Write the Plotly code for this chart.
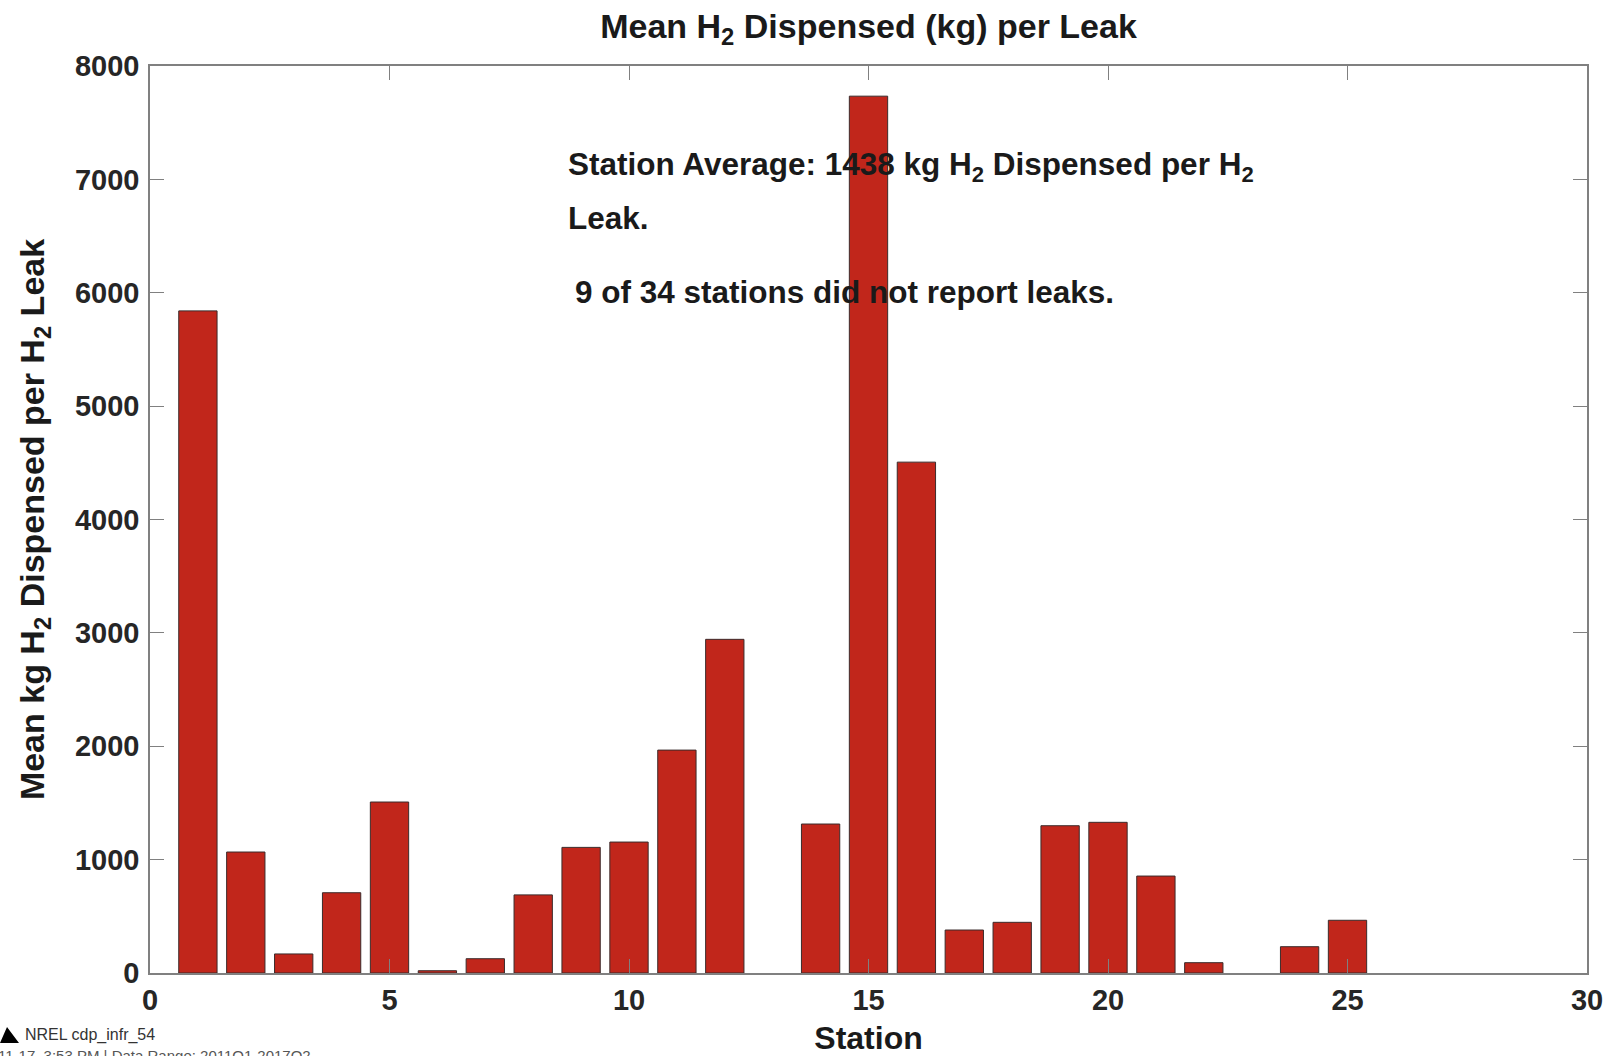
import plotly.graph_objects as go

# Mean kg of H2 dispensed per reported leak, by station (stations 13 and 23 have no bar)
stations = [1, 2, 3, 4, 5, 6, 7, 8, 9, 10, 11, 12, 14, 15, 16, 17, 18, 19, 20, 21, 22, 24, 25]
mean_kg_per_leak = [5840, 1067, 168, 708, 1508, 20, 126, 689, 1108, 1155, 1966, 2943,
                    1314, 7734, 4506, 379, 447, 1299, 1329, 855, 91, 232, 465]

x_ticks = [0, 5, 10, 15, 20, 25, 30]
y_ticks = [0, 1000, 2000, 3000, 4000, 5000, 6000, 7000, 8000]

station_average = 1438
stations_total = 34
stations_no_leaks = 9

FONT = "Liberation Sans, Arial, Helvetica, sans-serif"
TEXT = "#1a1a1a"
AXIS = "#808080"
BAR_FILL = "#C1261B"
BAR_EDGE = "#3b2b2b"

W, H = 1610, 1056
ML, MR, MT, MB = 150, 23, 66, 83
PLOT_W = W - ML - MR
PLOT_H = H - MT - MB


def px_to_paper(px, py):
    """Convert page pixel position to paper coordinates."""
    return (px - ML) / PLOT_W, (H - MB - py) / PLOT_H


fig = go.Figure()
fig.add_trace(go.Bar(
    x=stations,
    y=mean_kg_per_leak,
    width=0.8,
    marker=dict(color=BAR_FILL, line=dict(color=BAR_EDGE, width=1)),
    showlegend=False,
))

axis_common = dict(
    showline=True, linecolor=AXIS, linewidth=1.5, mirror="ticks",
    ticks="inside", ticklen=14, tickwidth=1.2, tickcolor=AXIS,
    showgrid=False, zeroline=False, automargin=False,
    tickfont=dict(family=FONT, size=29, color="#262626", weight="bold"),
)

fig.update_layout(
    width=W, height=H,
    margin=dict(l=ML, r=MR, t=MT, b=MB),
    paper_bgcolor="white", plot_bgcolor="white",
    title=dict(
        text="<b>Mean H<sub>2</sub> Dispensed (kg) per Leak</b>",
        font=dict(family=FONT, size=34, color=TEXT),
        x=0.5, xref="paper", xanchor="center",
        y=1 - 26 / H, yref="container", yanchor="middle",
    ),
    xaxis=dict(
        range=[0, 30], tickvals=x_ticks, ticktext=[str(v) for v in x_ticks],
        ticklabelstandoff=0,
        title=dict(text="<b>Station</b>", standoff=16,
                   font=dict(family=FONT, size=32, color=TEXT)),
        **axis_common,
    ),
    yaxis=dict(
        range=[0, 8000], tickvals=y_ticks, ticktext=[str(v) for v in y_ticks],
        ticklabelstandoff=3,
        title=dict(text="<b>Mean kg H<sub>2</sub> Dispensed per H<sub>2</sub> Leak</b>", standoff=20,
                   font=dict(family=FONT, size=34, color=TEXT)),
        **axis_common,
    ),
)

note_font = dict(family=FONT, size=31.5, color=TEXT)
notes = [
    (8.68, 7116, f"<b>Station Average: {station_average} kg H<sub>2</sub> Dispensed per H<sub>2</sub></b>"),
    (8.68, 6658, "<b>Leak.</b>"),
    (8.83, 6005, f"<b>{stations_no_leaks} of {stations_total} stations did not report leaks.</b>"),
]
for nx, ny, txt in notes:
    fig.add_annotation(x=nx, y=ny, xref="x", yref="y", text=txt, showarrow=False,
                       xanchor="left", yanchor="middle", font=note_font)

# NREL footer with its logo mark
tri = [px_to_paper(*p) for p in [(0, 1043), (7, 1027), (10, 1031), (19, 1043)]]
path = "M " + " L ".join(f"{a:.5f},{b:.5f}" for a, b in tri) + " Z"
fig.add_shape(type="path", xref="paper", yref="paper", path=path,
              fillcolor="black", line=dict(width=0))

fx, fy = px_to_paper(23, 1035)
fig.add_annotation(x=fx, y=fy, xref="paper", yref="paper", text="NREL cdp_infr_54",
                   showarrow=False, xanchor="left", yanchor="middle",
                   font=dict(family=FONT, size=16, color="#333333"))
dx, dy = px_to_paper(-4, 1055)
fig.add_annotation(x=dx, y=dy, xref="paper", yref="paper",
                   text="11-17, 3:53 PM | Data Range: 2011Q1-2017Q2",
                   showarrow=False, xanchor="left", yanchor="middle",
                   font=dict(family=FONT, size=15, color="#555555"))

fig.write_html("out.html")
